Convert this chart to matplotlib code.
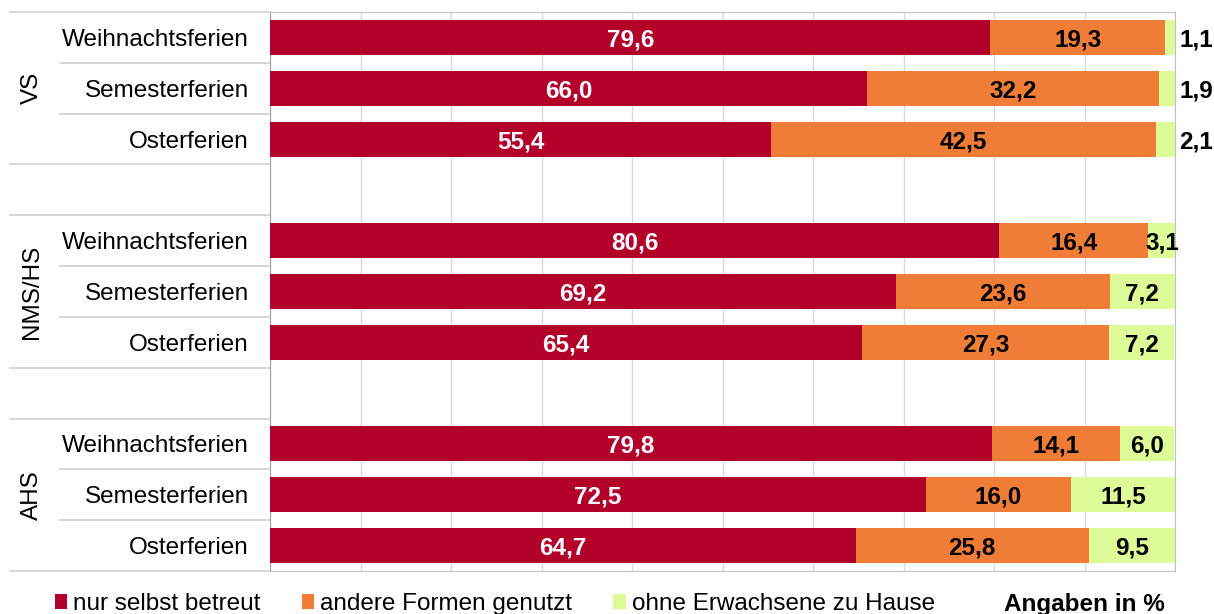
import matplotlib.pyplot as plt
from matplotlib.patches import Patch
from matplotlib.transforms import blended_transform_factory

plt.rcParams['font.family'] = ['Liberation Sans', 'DejaVu Sans']

# Daten
gruppen = ['VS', 'NMS/HS', 'AHS']
ferien = ['Weihnachtsferien', 'Semesterferien', 'Osterferien']
serien = ['nur selbst betreut', 'andere Formen genutzt', 'ohne Erwachsene zu Hause']
selbst = [79.6, 66.0, 55.4, 80.6, 69.2, 65.4, 79.8, 72.5, 64.7]
andere = [19.3, 32.2, 42.5, 16.4, 23.6, 27.3, 14.1, 16.0, 25.8]
ohne = [1.1, 1.9, 2.1, 3.1, 7.2, 7.2, 6.0, 11.5, 9.5]

farben = ['#b3002a', '#f07d37', '#ddfb96']
textfarben = ['white', 'black', 'black']

fig = plt.figure(figsize=(12.14, 6.14), dpi=100)
ax = fig.add_axes([270 / 1214, 1 - 571 / 614, 905 / 1214, 559 / 614])

# Zeilenpositionen: 3 Balken je Gruppe, dazwischen eine Leerzeile
ypos = []
for g in range(len(gruppen)):
    for k in range(len(ferien)):
        ypos.append(g * 4 + k + 0.5)

links = [0] * len(ypos)
for s, werte in enumerate([selbst, andere, ohne]):
    ax.barh(ypos, werte, left=links, height=0.69, color=farben[s], zorder=3)
    for y, l, w in zip(ypos, links, werte):
        if w < 2.5:
            ax.text(100.5, y, f'{w:.1f}'.replace('.', ','), ha='left', va='center_baseline',
                    fontsize=17.5, fontweight='bold', color='black', clip_on=False)
        else:
            ax.text(l + w / 2, y, f'{w:.1f}'.replace('.', ','), ha='center',
                    va='center_baseline', fontsize=17.5, fontweight='bold',
                    color=textfarben[s], zorder=4)
    links = [a + b for a, b in zip(links, werte)]

ax.set_xlim(0, 100)
ax.set_ylim(11, 0)
ax.set_xticks(range(0, 101, 10))
ax.xaxis.grid(True, color='#d9d9d9', lw=1)
ax.set_axisbelow(True)
ax.tick_params(axis='x', length=0, labelbottom=False)
ax.set_yticks([])
for sp in ['top', 'right', 'bottom']:
    ax.spines[sp].set_color('#c0c0c0')
ax.spines['left'].set_color('#a0a0a0')

# Beschriftungen links
trans = blended_transform_factory(ax.transAxes, ax.transData)
for y, i in zip(ypos, range(len(ypos))):
    ax.text(-21 / 905, y, ferien[i % 3], ha='right', va='center_baseline', fontsize=17.5,
            transform=trans)
for g, name in enumerate(gruppen):
    ax.text(-238 / 905, g * 4 + 1.5, name, ha='center', va='center', rotation=90,
            fontsize=17.5, transform=trans)

# Trennlinien im Beschriftungsbereich
for y in range(12):
    if y in (0, 3, 4, 7, 8, 11):
        x0 = -260 / 905
    elif y in (1, 2, 5, 6, 9, 10):
        x0 = -210 / 905
    else:
        continue
    ax.plot([x0, 0], [y, y], color='#d0d0d0', lw=1.2, transform=trans, clip_on=False)

handles = [Patch(facecolor=c) for c in farben]
fig.legend(handles, serien, loc='center left', bbox_to_anchor=(55 / 1214, 10 / 614),
           ncol=3, frameon=False, fontsize=17.5, handlelength=0.5, handleheight=0.55,
           handletextpad=0.25, columnspacing=1.7, borderaxespad=0, borderpad=0)
fig.text(1165 / 1214, 10 / 614, 'Angaben in %', ha='right', va='center',
         fontsize=17.5, fontweight='bold')

fig.savefig('out.png', dpi=100)
